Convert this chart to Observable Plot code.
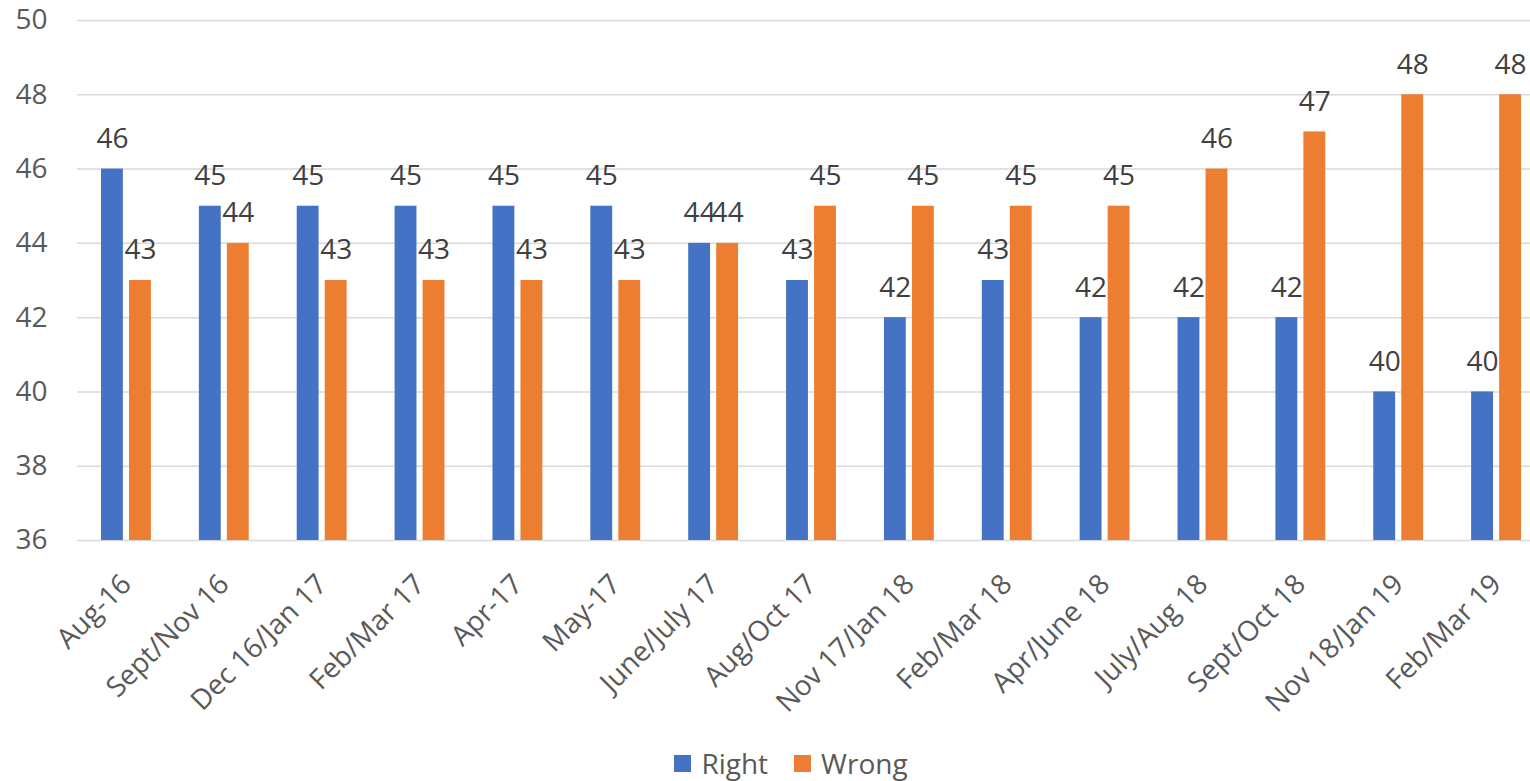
<!DOCTYPE html>
<html>
<head>
<meta charset="utf-8">
<script src="https://cdn.jsdelivr.net/npm/d3@7"></script>
<script src="https://cdn.jsdelivr.net/npm/@observablehq/plot@0.6"></script>
<style>
  html, body { margin: 0; padding: 0; background: #fff; overflow: hidden; width: 1530px; height: 781px; }
  #legend { height: 36px; display: flex; justify-content: center; align-items: center; padding-left: 52px; font-family: "Open Sans", sans-serif; font-size: 28px; color: #595959; }
  #legend .item { display: flex; align-items: center; }
  #legend .sw { width: 17px; height: 17px; margin-right: 10px; }
  #legend .item + .item { margin-left: 26px; }
</style>
</head>
<body>
<div id="chart"></div>
<div id="legend"></div>
<script>
const categories = ["Aug-16","Sept/Nov 16","Dec 16/Jan 17","Feb/Mar 17","Apr-17","May-17","June/July 17","Aug/Oct 17","Nov 17/Jan 18","Feb/Mar 18","Apr/June 18","July/Aug 18","Sept/Oct 18","Nov 18/Jan 19","Feb/Mar 19"];
const rightValues = [46,45,45,45,45,45,44,43,42,43,42,42,42,40,40];
const wrongValues = [43,44,43,43,43,43,44,45,45,45,45,46,47,48,48];
const seriesNames = ["Right", "Wrong"];
const seriesColors = ["#4472C4", "#ED7D31"];
const yTicks = [36,38,40,42,44,46,48,50];

const rightData = categories.map((c, i) => ({category: c, value: rightValues[i]}));
const wrongData = categories.map((c, i) => ({category: c, value: wrongValues[i]}));
const yMin = yTicks[0];

const chart = Plot.plot({
  width: 1530,
  height: 745,
  marginTop: 20,
  marginBottom: 205,
  marginLeft: 77,
  marginRight: 0,
  style: {fontFamily: "'Open Sans', sans-serif", fontSize: "28px", color: "#595959", background: "#fff", overflow: "hidden"},
  x: {domain: categories, range: [77, 1545], padding: 0, round: false},
  y: {domain: [yTicks[0], yTicks[yTicks.length - 1]]},
  marks: [
    Plot.gridY(yTicks, {stroke: "#d9d9d9", strokeOpacity: 1, strokeWidth: 1.5}),
    Plot.axisY(yTicks, {tickSize: 0, tickPadding: 30, label: null, fill: "#595959"}),
    Plot.axisX({tickSize: 0, tickPadding: 39, tickRotate: -45, textAnchor: "end", lineAnchor: "middle", label: null, fill: "#595959"}),
    Plot.barY(rightData, {x: "category", y1: () => yMin, y2: "value", fill: seriesColors[0], insetLeft: 24, insetRight: 52}),
    Plot.barY(wrongData, {x: "category", y1: () => yMin, y2: "value", fill: seriesColors[1], insetLeft: 52, insetRight: 24}),
    Plot.text(rightData, {x: "category", y: "value", text: d => String(d.value), dx: -14, dy: -30, lineAnchor: "middle", fill: "#404040"}),
    Plot.text(wrongData, {x: "category", y: "value", text: d => String(d.value), dx: 14, dy: -30, lineAnchor: "middle", fill: "#404040"})
  ]
});
document.getElementById("chart").appendChild(chart);

const legend = document.getElementById("legend");
seriesNames.forEach((name, i) => {
  const item = document.createElement("div");
  item.className = "item";
  const sw = document.createElement("span");
  sw.className = "sw";
  sw.style.background = seriesColors[i];
  const label = document.createElement("span");
  label.textContent = name;
  item.appendChild(sw);
  item.appendChild(label);
  legend.appendChild(item);
});
</script>
</body>
</html>
